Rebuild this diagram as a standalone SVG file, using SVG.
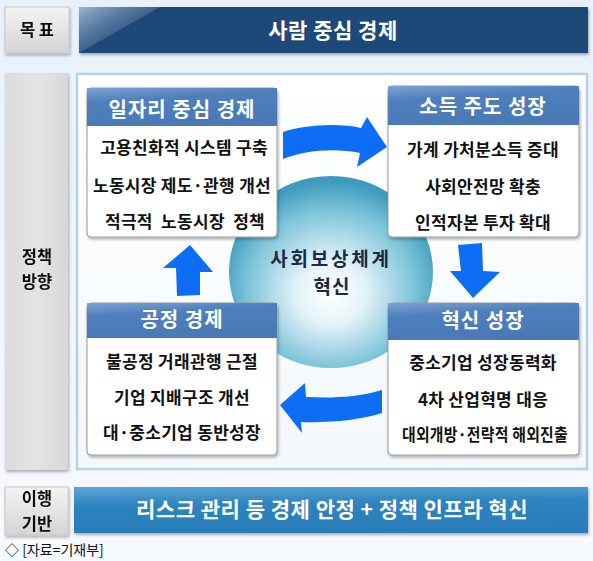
<svg xmlns="http://www.w3.org/2000/svg" width="593" height="561" viewBox="0 0 593 561">
<defs>
<linearGradient id="bg" x1="0" y1="0" x2="0" y2="1"><stop offset="0" stop-color="#e8f1fa"/><stop offset="1" stop-color="#f7fafd"/></linearGradient>
<linearGradient id="gray" x1="0" y1="0" x2="0" y2="1"><stop offset="0" stop-color="#f4f4f4"/><stop offset="1" stop-color="#d4d4d4"/></linearGradient>
<linearGradient id="col" x1="0" y1="0" x2="1" y2="0"><stop offset="0" stop-color="#dcdcdc"/><stop offset="0.5" stop-color="#e4e4e4"/><stop offset="1" stop-color="#d8d8d8"/></linearGradient>
<linearGradient id="navyHi" x1="0" y1="0" x2="1" y2="1"><stop offset="0" stop-color="#9fb6d3"/><stop offset="1" stop-color="#1f4878" stop-opacity="0"/></linearGradient>
<linearGradient id="hdr" x1="0" y1="0" x2="0.35" y2="1"><stop offset="0" stop-color="#7ea3d3"/><stop offset="0.35" stop-color="#4f7fbd"/><stop offset="1" stop-color="#4a79b6"/></linearGradient>
<linearGradient id="bot" x1="0" y1="0" x2="0.15" y2="1"><stop offset="0" stop-color="#5ea6d6"/><stop offset="0.4" stop-color="#2d84c0"/><stop offset="1" stop-color="#2a7db8"/></linearGradient>
<linearGradient id="panel" x1="0" y1="0" x2="0" y2="1"><stop offset="0" stop-color="#ffffff"/><stop offset="1" stop-color="#f3f8fc"/></linearGradient>
<radialGradient id="circ" cx="0.5" cy="0.58" r="0.55" fx="0.5" fy="0.62"><stop offset="0" stop-color="#ffffff"/><stop offset="0.3" stop-color="#e4f3f8"/><stop offset="0.75" stop-color="#7cc3d9"/><stop offset="1" stop-color="#3e9bbd"/></radialGradient>
<filter id="sh" x="-5%" y="-5%" width="110%" height="115%"><feDropShadow dx="1" dy="2" stdDeviation="1.5" flood-color="#000" flood-opacity="0.3"/></filter>
</defs>
<style>
text{font-family:"Noto Sans CJK KR","Noto Sans",sans-serif;}
.lbl{font-weight:bold;font-size:16.5px;fill:#111;text-anchor:middle;}
.hd{font-weight:bold;font-size:20px;fill:#fff;text-anchor:middle;letter-spacing:1px;}
.bd{font-weight:bold;font-size:17px;fill:#111;text-anchor:middle;white-space:pre;letter-spacing:0.3px;}
.body{fill:#fff;stroke:#9a9a9a;stroke-width:1;}
.arr{fill:#0d6ef5;}
.ctr{font-weight:bold;font-size:19px;fill:#1b2a48;text-anchor:middle;}
</style>
<rect width="593" height="561" fill="url(#bg)"/>

<g id="goal-label" filter="url(#sh)">
<rect x="5" y="7" width="64" height="46" fill="url(#gray)" stroke="#c8c8c8"/>
<text class="lbl" x="37" y="36">목 표</text>
</g>
<g id="goal">
<rect x="79" y="7" width="509" height="46" fill="#1f4878" filter="url(#sh)"/>
<polygon points="79,7 160,7 79,53" fill="url(#navyHi)"/>
<text x="333" y="38" font-size="21" font-weight="bold" fill="#fff" text-anchor="middle" letter-spacing="0.5">사람 중심 경제</text>
</g>

<g id="policy-label" filter="url(#sh)">
<rect x="5" y="73" width="63" height="397" fill="url(#col)"/>
<text class="lbl" x="37" y="263">정책</text>
<text class="lbl" x="37" y="288">방향</text>
</g>

<rect x="77" y="74" width="510" height="395" fill="url(#panel)" stroke="#b7d0e8" stroke-width="2.5"/>

<g id="center">
<ellipse cx="331" cy="272" rx="102" ry="96" fill="url(#circ)"/>
<text class="ctr" x="331" y="266" letter-spacing="2.8">사회보상체계</text>
<text class="ctr" x="332" y="294" letter-spacing="1">혁신</text>
</g>

<g id="connectors">
<path class="arr" d="M283,132 C300,126 335,122 361,128 L367,117 L387,147 L357,167 L360,153 C335,148 305,150 283,159 Z"/>
<path class="arr" d="M458,245 L482,243 L483,271 L500,272 L473,298 L450,271 L461,271 Z"/>
<path class="arr" d="M382,390 C355,398 330,398 306,397 L305,383 L280,405 L302,433 L301,422 C330,423 360,420 382,413 Z"/>
<path class="arr" d="M190,245 L213,272 L200,272 L200,295 L177,296 L176,268 L163,268 Z"/>
</g>

<g id="job-economy">
<rect class="body" x="87" y="88" width="190" height="149" rx="4" filter="url(#sh)"/>
<rect x="87" y="88" width="190" height="38" fill="url(#hdr)"/>
<text class="hd" x="182" y="117">일자리 중심 경제</text>
<text class="bd" x="184" y="154">고용친화적 시스템 구축</text>
<text class="bd" x="182" y="192">노동시장 제도·관행 개선</text>
<text class="bd" x="185" y="228">적극적  노동시장  정책</text>
</g>

<g id="income-growth">
<rect class="body" x="388" y="86" width="191" height="151" rx="4" filter="url(#sh)"/>
<rect x="388" y="86" width="191" height="39" fill="url(#hdr)"/>
<text class="hd" x="483" y="114">소득 주도 성장</text>
<text class="bd" x="483" y="156">가계 가처분소득 증대</text>
<text class="bd" x="483" y="193">사회안전망 확충</text>
<text class="bd" x="483" y="229">인적자본 투자 확대</text>
</g>

<g id="fair-economy">
<rect class="body" x="87" y="303" width="190" height="152" rx="4" filter="url(#sh)"/>
<rect x="87" y="303" width="190" height="35" fill="url(#hdr)"/>
<text class="hd" x="182" y="327">공정 경제</text>
<text class="bd" x="182" y="368">불공정 거래관행 근절</text>
<text class="bd" x="182" y="404">기업 지배구조 개선</text>
<text class="bd" x="182" y="439">대·중소기업 동반성장</text>
</g>

<g id="innovation-growth">
<rect class="body" x="388" y="303" width="191" height="152" rx="4" filter="url(#sh)"/>
<rect x="388" y="303" width="191" height="37" fill="url(#hdr)"/>
<text class="hd" x="483" y="328">혁신 성장</text>
<text class="bd" x="483" y="369">중소기업 성장동력화</text>
<text class="bd" x="483" y="406">4차 산업혁명 대응</text>
<text class="bd" x="485" y="441" textLength="166" lengthAdjust="spacingAndGlyphs">대외개방·전략적 해외진출</text>
</g>

<g id="base-label" filter="url(#sh)">
<rect x="5" y="487" width="63" height="48" fill="url(#gray)" stroke="#c8c8c8"/>
<text class="lbl" x="37" y="505" font-size="17">이행</text>
<text class="lbl" x="37" y="530" font-size="17">기반</text>
</g>
<g id="base">
<rect x="74" y="487" width="514" height="46" fill="url(#bot)" filter="url(#sh)"/>
<text x="332" y="517" font-size="21" font-weight="bold" fill="#fff" text-anchor="middle" letter-spacing="0.5">리스크 관리 등 경제 안정 + 정책 인프라 혁신</text>
</g>

<text x="5" y="555" font-size="14" fill="#111">◇ [자료=기재부]</text>
</svg>
